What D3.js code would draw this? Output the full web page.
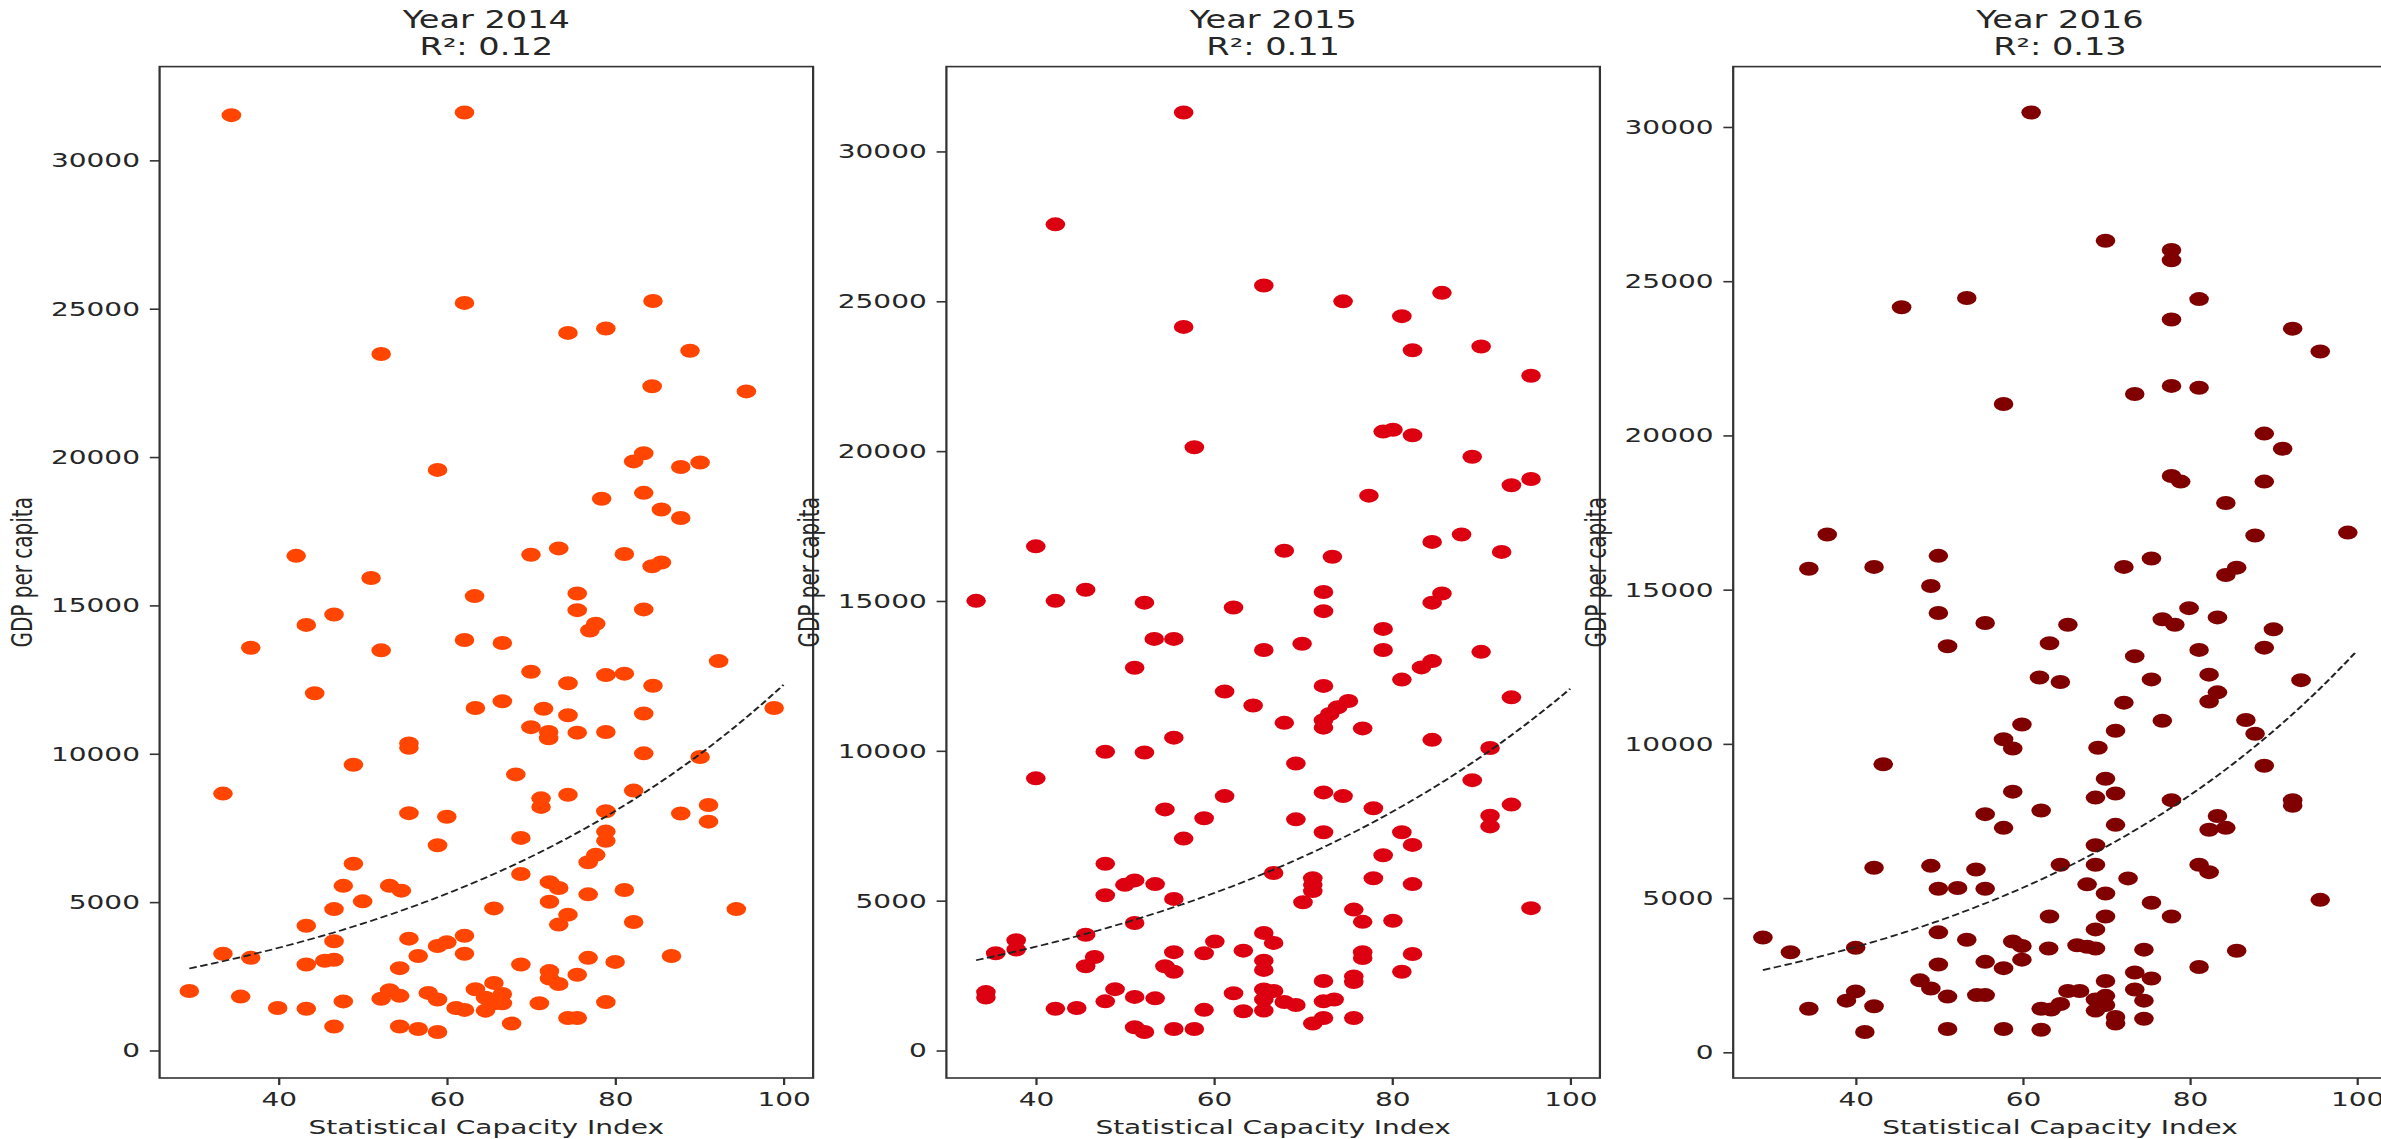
<!DOCTYPE html>
<html>
<head>
<meta charset="utf-8">
<script src="https://cdn.jsdelivr.net/npm/d3@7"></script>
<style>
  html, body { margin: 0; padding: 0; background: #ffffff; }
  svg { display: block; }
</style>
</head>
<body>
<div id="chart"></div>
<script>
// ---------------- DATA ----------------
const years = [2014, 2015, 2016];
const r2Values = [0.12, 0.11, 0.13];
const xTickValues = [40, 60, 80, 100];
const yTickValues = [0, 5000, 10000, 15000, 20000, 25000, 30000];
const xLabel = "Statistical Capacity Index";
const yLabel = "GDP per capita";

// exponential trend fit: ln(GDP) = intercept + slope * SCI
const trendIntercept = [7.3022, 7.3176, 7.2442];
const trendSlope = [0.02117, 0.02081, 0.0223];
const trendEnd = [100, 100, 100];

const sci2014 = [34.4,62.1,62.1,84.5,74.4,78.9,52.2,88.9,84.4,95.6,83.4,82.2,58.9,87.8,90.1,78.4,83.4,85.5,87.8,42.1,70.0,73.3,81.1,84.4,85.5,51.0,63.3,75.5,75.5,46.6,83.4,43.3,77.7,77.0,36.7,52.2,62.1,66.6,92.3,70.0,74.4,78.9,81.1,84.5,44.3,63.4,66.6,71.5,74.4,83.4,98.9,70.0,72.1,72.1,75.5,78.9,55.5,55.5,83.4,90.1,48.9,68.2,33.4,71.2,71.2,74.4,82.2,55.5,60.0,78.9,87.8,91.1,91.1,78.9,78.9,68.8,58.9,77.7,76.8,48.9,68.8,47.7,53.2,54.6,72.2,73.3,81.1,50.0,72.2,76.8,46.6,65.6,94.4,74.4,73.3,82.2,43.3,46.6,55.5,58.9,60.0,62.1,33.4,36.7,56.6,62.1,76.8,86.7,43.3,45.5,46.6,68.8,80.0,54.4,72.2,72.2,73.3,75.5,29.4,35.5,39.9,43.3,47.7,52.2,53.2,54.4,57.8,58.9,61.1,62.1,63.4,65.6,64.6,66.6,65.6,64.6,66.6,67.7,71.0,74.4,75.5,78.9,46.6,54.4,56.6,58.9];
const gdp2014 = [31523,31610,25195,25258,24184,24334,23473,23585,22387,22212,20128,19854,19567,19667,19816,18593,18793,18231,17944,16671,16709,16921,16734,16322,16447,15923,15314,15401,14841,14692,14866,14343,14381,14157,13572,13485,13833,13734,13124,12763,12378,12651,12701,12291,12042,11544,11768,11519,11296,11358,11544,10897,10736,10524,10711,10736,10350,10200,10014,9890,9629,9305,8658,8497,8210,8621,8758,7999,7875,8061,7986,8273,7713,7377,7066,7165,6917,6593,6344,6295,5946,5548,5548,5387,5673,5474,5411,5026,5013,5262,4765,4789,4765,4578,4242,4329,4205,3682,3769,3521,3645,3869,3259,3122,3185,3259,3122,3185,2899,3023,3060,2899,2986,2774,2675,2426,2239,2550,2003,1816,1431,1406,1655,1742,2028,1841,1941,1717,1431,1368,2065,2277,1779,1903,1592,1343,1592,908,1592,1095,1095,1630,809,809,722,622];

const sci2015 = [56.6,42.2,65.6,74.5,56.6,81.1,85.6,82.3,90.0,95.6,79.0,80.1,82.3,57.8,89.0,93.4,95.6,77.4,40.0,67.9,73.3,84.5,87.8,92.3,33.3,42.2,45.6,52.2,62.2,72.3,72.3,84.5,85.6,53.3,55.5,65.6,69.9,79.0,79.0,90.0,51.1,83.3,84.5,81.1,61.2,72.3,64.4,93.4,75.1,73.9,73.0,72.3,72.3,67.9,76.7,55.5,84.5,47.8,52.2,91.0,69.2,40.0,89.0,61.2,72.3,74.5,54.5,58.9,69.2,77.9,93.4,91.0,91.0,56.6,72.3,81.1,82.3,79.0,47.8,66.7,50.0,51.1,53.4,71.1,71.1,71.1,77.9,82.3,47.8,55.5,70.0,75.7,76.7,80.1,95.6,51.1,45.6,65.6,66.7,60.1,58.9,37.8,37.8,35.5,55.5,63.3,76.7,76.7,82.3,46.6,45.6,54.5,55.5,65.6,65.6,81.1,72.3,75.7,75.7,34.4,34.4,48.9,47.8,51.1,53.4,62.2,65.6,66.7,65.6,65.6,67.9,69.2,72.3,73.5,42.2,44.6,58.9,63.3,71.1,72.3,75.7,51.1,52.2,55.5,57.8];
const gdp2015 = [31297,27567,25529,24998,24146,24504,25282,23368,23491,22516,20651,20713,20528,20132,19811,18860,19070,18515,16823,16674,16477,16971,17218,16637,15005,15005,15376,14944,14783,15302,14660,14944,15252,13734,13734,13364,13574,14068,13364,13303,12772,12784,12994,12377,11982,12167,11513,11785,11661,11452,11229,11020,10773,10933,10748,10440,10366,9971,9946,10094,9576,9082,9021,8490,8613,8490,8046,7750,7713,8083,8206,7836,7478,7071,7281,7281,6861,6516,6232,5923,5528,5676,5553,5750,5528,5319,5750,5553,5183,5059,4948,4702,4294,4331,4751,4257,3862,3924,3591,3640,3245,3677,3369,3245,3282,3332,3282,3085,3221,3122,2814,2814,2628,2999,2690,2628,2320,2468,2283,1950,1765,2048,1641,1789,1740,1913,2036,1987,1703,1333,1617,1518,1641,1703,1394,1419,1357,1308,901,1086,1086,777,617,716,716];

const sci2016 = [61.0,69.9,77.8,77.8,45.5,53.3,81.1,77.8,92.3,95.6,57.7,73.4,77.8,81.1,88.9,91.1,77.8,78.9,88.9,84.3,36.6,87.8,98.9,49.9,75.4,34.4,42.2,72.1,85.6,84.3,49.0,49.9,55.5,65.4,76.7,78.2,79.9,83.3,90.0,51.0,63.2,81.1,88.9,73.4,62.0,64.5,75.4,82.3,93.3,83.3,82.3,72.1,76.7,86.7,59.9,71.1,87.8,57.7,58.8,69.0,43.3,88.9,69.9,58.8,71.1,68.7,77.8,92.3,92.3,62.2,55.5,83.3,84.3,82.3,57.7,71.1,68.7,42.2,49.0,54.4,64.5,68.7,81.1,82.3,49.9,52.2,55.5,67.7,72.6,69.9,75.4,95.6,63.2,69.9,77.8,68.7,49.9,28.9,53.3,32.2,40.0,58.8,59.9,63.1,66.5,67.7,68.7,74.5,85.6,59.9,49.9,55.5,57.7,81.1,73.4,69.9,75.4,47.7,49.0,40.0,38.9,51.0,54.5,55.5,65.4,66.8,73.4,34.4,42.2,62.2,63.4,64.5,68.7,69.9,68.7,69.9,74.5,71.1,71.1,74.5,41.1,51.0,57.7,62.2];
const gdp2016 = [30467,26311,26012,25677,24156,24455,24419,23760,23461,22719,21018,21341,21605,21545,20060,19569,18683,18503,18503,17808,16790,16755,16850,16096,16012,15677,15737,15737,15713,15473,15118,14244,13921,13861,14041,13861,14400,14101,13718,13167,13263,13047,13119,12844,12150,12006,12090,12245,12066,11671,11372,11336,10749,10773,10629,10426,10330,10151,9851,9875,9337,9289,8870,8451,8391,8259,8176,8176,7996,7840,7721,7661,7278,7218,7278,7374,6715,5985,6045,5925,6081,6081,6081,5841,5303,5327,5303,5446,5638,5147,4848,4944,4405,4405,4405,3986,3890,3723,3651,3244,3388,3591,3447,3364,3471,3423,3364,3328,3292,3004,2849,2933,2729,2765,2586,2310,2394,2334,2071,1975,1676,1807,1855,1855,1987,1987,2035,1412,1496,1412,1388,1568,1712,1831,1353,1532,1676,1149,934,1089,658,754,754,730];

const sciByYear = [sci2014, sci2015, sci2016];
const gdpByYear = [gdp2014, gdp2015, gdp2016];

// ---------------- LAYOUT / STYLE ----------------
const W = 2381, H = 1139;
const K = 1.4;                 // horizontal stretch of the whole figure
const plotTop = 66.6, plotBottom = 1078;
const panelLeft0 = 114, panelStep = 562, plotW = 466.8;
const dotColors = ["#ff4500", "#dc0010", "#800000"];
const ink = "#333333";
const font = "DejaVu Sans, Liberation Sans, sans-serif";

const svg = d3.select("#chart").append("svg")
  .attr("width", W).attr("height", H)
  .attr("viewBox", `0 0 ${W} ${H}`);
svg.append("rect").attr("width", W).attr("height", H).attr("fill", "#fff");

const root = svg.append("g").attr("transform", `scale(${K},1)`);

years.forEach((yr, i) => {
  const sci = sciByYear[i], gdp = gdpByYear[i];
  const pts = sci.map((s, j) => ({ x: s, y: gdp[j] }));
  const left = panelLeft0 + i * panelStep;

  const xMin = d3.min(sci), xMax = Math.max(d3.max(sci), trendEnd[i]);
  const xPad = 0.05 * (xMax - xMin);
  const yMin = d3.min(gdp), yMax = d3.max(gdp);
  const yPad = 0.05 * (yMax - yMin);

  const xs = d3.scaleLinear().domain([xMin - xPad, xMax + xPad]).range([left, left + plotW]);
  const ys = d3.scaleLinear().domain([yMin - yPad, yMax + yPad]).range([plotBottom, plotTop]);

  const g = root.append("g");

  // dots
  g.append("g").selectAll("circle").data(pts).join("circle")
    .attr("cx", d => xs(d.x)).attr("cy", d => ys(d.y))
    .attr("r", 7).attr("fill", dotColors[i]);

  // trend curve
  const tr = d3.range(xMin, trendEnd[i] + 0.001, 0.5).concat([trendEnd[i]])
    .map(x => ({ x, y: Math.exp(trendIntercept[i] + trendSlope[i] * x) }));
  g.append("path").datum(tr)
    .attr("d", d3.line().x(d => xs(d.x)).y(d => ys(d.y)))
    .attr("fill", "none").attr("stroke", "#222").attr("stroke-width", 1.7)
    .attr("stroke-dasharray", "5.5,2.6");

  // frame
  g.append("rect")
    .attr("x", left).attr("y", plotTop)
    .attr("width", plotW).attr("height", plotBottom - plotTop)
    .attr("fill", "none").attr("stroke", ink).attr("stroke-width", 1.6);

  // axes
  const xAxis = g.append("g").attr("transform", `translate(0,${plotBottom})`)
    .call(d3.axisBottom(xs).tickValues(xTickValues).tickSize(7).tickPadding(7).tickFormat(d3.format("d")));
  const yAxis = g.append("g").attr("transform", `translate(${left},0)`)
    .call(d3.axisLeft(ys).tickValues(yTickValues).tickSize(7).tickPadding(7).tickFormat(d3.format("d")));
  [xAxis, yAxis].forEach(ax => {
    ax.select(".domain").remove();
    ax.selectAll(".tick line").attr("stroke", ink).attr("stroke-width", 1.6);
    ax.selectAll(".tick text").attr("fill", "#262626")
      .attr("font-family", font).attr("font-size", 20);
  });

  // titles
  const cx = left + plotW / 2;
  g.append("text").attr("x", cx).attr("y", 28).attr("text-anchor", "middle")
    .attr("font-family", font).attr("font-size", 24).attr("fill", "#262626")
    .text(`Year ${yr}`);
  g.append("text").attr("x", cx).attr("y", 55).attr("text-anchor", "middle")
    .attr("font-family", font).attr("font-size", 24).attr("fill", "#262626")
    .text(`R\u00B2: ${r2Values[i].toFixed(2)}`);

  // axis labels
  g.append("text").attr("x", cx).attr("y", 1134).attr("text-anchor", "middle")
    .attr("font-family", font).attr("font-size", 20).attr("fill", "#262626")
    .text(xLabel);
  g.append("text")
    .attr("transform", `translate(${left - 91},${(plotTop + plotBottom) / 2}) rotate(-90)`)
    .attr("text-anchor", "middle")
    .attr("font-family", font).attr("font-size", 20).attr("fill", "#262626")
    .text(yLabel);
});
</script>
</body>
</html>
